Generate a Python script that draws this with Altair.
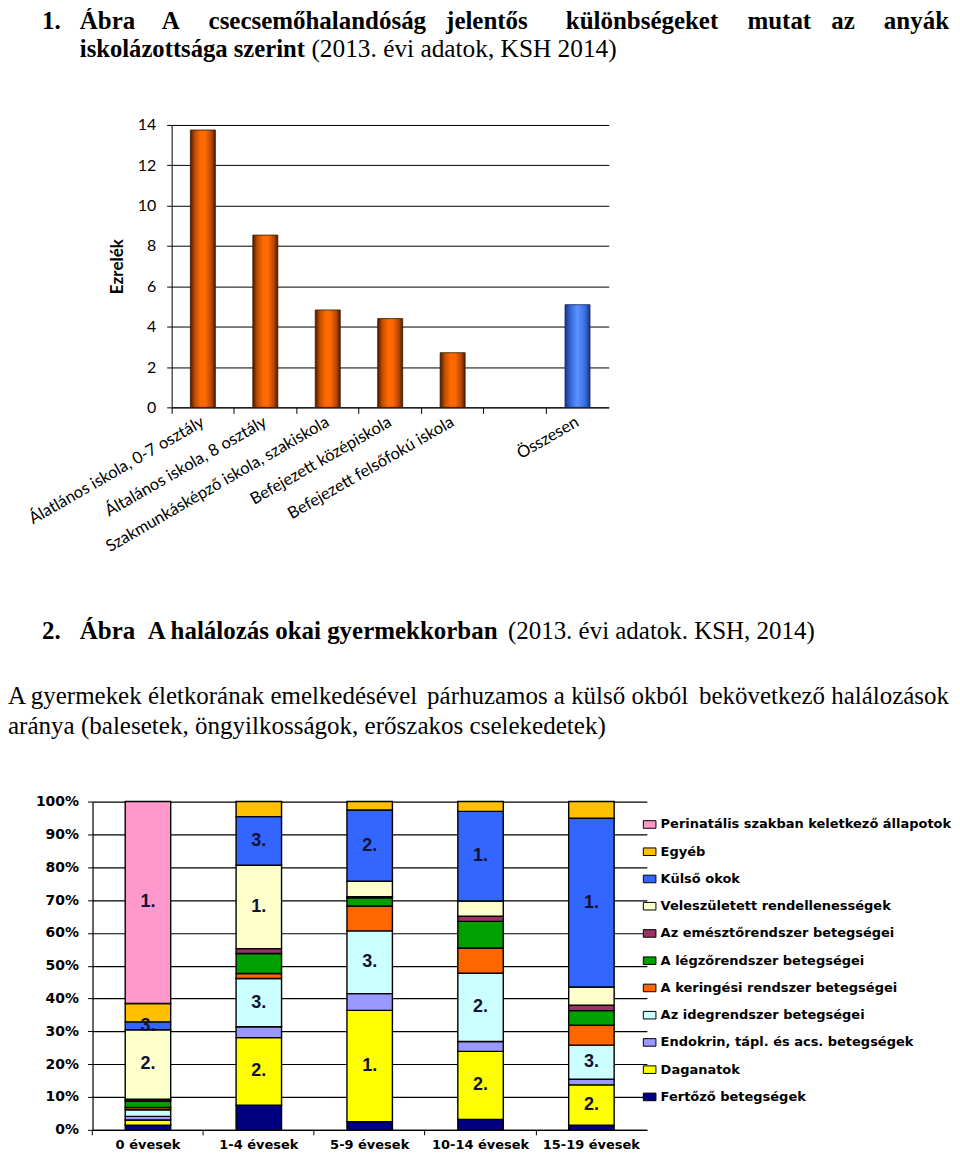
import altair as alt
import pandas as pd

# ---------------- Chart 1: infant mortality by mother's education ----------------
edu_categories = [
    "Álatlános iskola, 0-7 osztály",
    "Általános iskola, 8 osztály",
    "Szakmunkásképző iskola, szakiskola",
    "Befejezett középiskola",
    "Befejezett felsőfokú iskola",
    "",
    "Összesen",
]
edu_values = [13.75, 8.54, 4.83, 4.40, 2.71, None, 5.09]
edu_total = "Összesen"
ezrelek_ticks = [0, 2, 4, 6, 8, 10, 12, 14]

# ---------------- Chart 2: causes of death in childhood ----------------
age_groups = ["0 évesek", "1-4 évesek", "5-9 évesek", "10-14 évesek", "15-19 évesek"]
# stacking order, bottom to top
causes = [
    "Fertőző betegségek",
    "Daganatok",
    "Endokrin, tápl. és acs. betegségek",
    "Az idegrendszer betegségei",
    "A keringési rendszer betegségei",
    "A légzőrendszer betegségei",
    "Az emésztőrendszer betegségei",
    "Veleszületett rendellenességek",
    "Külső okok",
    "Egyéb",
    "Perinatális szakban keletkező állapotok",
]
cause_colors = ["#000080", "#FFFF00", "#9999FF", "#CCFFFF", "#FF6600", "#00A000",
                "#993366", "#FFFFCC", "#3366FF", "#FFC000", "#FF99CC"]

share_0 = [1.4, 1.6, 1.1, 2.0, 0.7, 2.0, 0.5, 21.2, 2.4, 5.6, 61.5]
share_1_4 = [7.5, 20.6, 3.3, 14.7, 1.5, 6.1, 1.5, 25.4, 14.8, 4.6, 0]
share_5_9 = [2.5, 33.9, 5.1, 19.1, 7.6, 2.5, 0.3, 4.7, 21.7, 2.6, 0]
share_10_14 = [3.2, 20.7, 3.0, 20.8, 7.7, 8.1, 1.6, 4.6, 27.3, 3.0, 0]
share_15_19 = [1.4, 12.3, 1.7, 10.4, 6.1, 4.4, 1.7, 5.5, 51.4, 5.1, 0]

rank_0 = ["", "", "", "", "", "", "", "2.", "3.", "", "1."]
rank_1_4 = ["", "2.", "", "3.", "", "", "", "1.", "3.", "", ""]
rank_5_9 = ["", "1.", "", "3.", "", "", "", "", "2.", "", ""]
rank_10_14 = ["", "2.", "", "2.", "", "", "", "", "1.", "", ""]
rank_15_19 = ["", "2.", "", "3.", "", "", "", "", "1.", "", ""]

pct_ticks = [0, 10, 20, 30, 40, 50, 60, 70, 80, 90, 100]

# ---------------- tables ----------------
edu_df = pd.DataFrame({"cat": edu_categories, "val": edu_values}).dropna()

rows = []
for age, shares, ranks in zip(
    age_groups,
    [share_0, share_1_4, share_5_9, share_10_14, share_15_19],
    [rank_0, rank_1_4, rank_5_9, rank_10_14, rank_15_19],
):
    base = 0.0
    for i, (cause, v, r) in enumerate(zip(causes, shares, ranks)):
        if v > 0:
            rows.append(dict(age=age, cause=cause, order=i, y0=base, y1=base + v,
                             mid=base + v / 2, rank=r))
        base += v
cause_df = pd.DataFrame(rows)
label_df = cause_df[cause_df["rank"] != ""]

legend_causes = list(reversed(causes))
legend_colors = list(reversed(cause_colors))

W = 944
SERIF = "Liberation Serif"
one = pd.DataFrame({"k": [0]})


def txt(s, x, y, size=25, bold=False, align="left"):
    return alt.Chart(one).mark_text(
        text=s, font=SERIF, fontSize=size, fontWeight="bold" if bold else "normal",
        align=align, baseline="alphabetic", color="black"
    ).encode(x=alt.value(x), y=alt.value(y))


# ---------------- header text ----------------
HB1, HB2 = 20, 48
header = alt.layer(
    txt("1.", 34, HB1, bold=True),
    txt("Ábra", 72, HB1, bold=True),
    txt("A", 154, HB1, bold=True),
    txt("csecsemőhalandóság", 201, HB1, bold=True),
    txt("jelentős", 439, HB1, bold=True),
    txt("különbségeket", 559, HB1, bold=True),
    txt("mutat", 741, HB1, bold=True),
    txt("az", 825, HB1, bold=True),
    txt("anyák", 943, HB1, bold=True, align="right"),
    txt("iskolázottsága szerint", 72, HB2, bold=True, size=24.7),
    txt("(2013. évi adatok, KSH 2014)", 610, HB2, size=25.4, align="right"),
).properties(width=W, height=116)

# ---------------- chart 1 ----------------
orange = alt.LinearGradient(
    gradient="linear", x1=0, x2=1, y1=0, y2=0,
    stops=[
        alt.GradientStop(color="#4a1a00", offset=0),
        alt.GradientStop(color="#c04c00", offset=0.18),
        alt.GradientStop(color="#ff6a00", offset=0.42),
        alt.GradientStop(color="#ff6a00", offset=0.6),
        alt.GradientStop(color="#b54500", offset=0.85),
        alt.GradientStop(color="#4a1a00", offset=1),
    ],
)
blue = alt.LinearGradient(
    gradient="linear", x1=0, x2=1, y1=0, y2=0,
    stops=[
        alt.GradientStop(color="#1a3488", offset=0),
        alt.GradientStop(color="#3a6ee0", offset=0.25),
        alt.GradientStop(color="#5a92ff", offset=0.5),
        alt.GradientStop(color="#3a6ee0", offset=0.8),
        alt.GradientStop(color="#1a3488", offset=1),
    ],
)

x_top_scale = alt.Scale(domain=edu_categories, range=[164, 602], paddingInner=0, paddingOuter=0)
y_top_scale = alt.Scale(domain=[0, 14])
y_top_axis = alt.Axis(
    values=ezrelek_ticks, offset=-164, grid=True, gridColor="black", gridWidth=1,
    domainColor="black", tickColor="black", tickSize=5,
    labelFont="Lato", labelFontSize=16, labelColor="black", labelPadding=11,
    title="Ezrelék", titleFont="Lato", titleFontSize=17, titleFontWeight="bold",
    titleColor="black", titlePadding=11,
)

top_base = alt.Chart(edu_df)
bars_school = top_base.transform_filter(alt.datum.cat != edu_total).mark_bar(
    width=alt.RelativeBandSize(0.4), color=orange, stroke="#3a1600", strokeWidth=0.8
).encode(
    x=alt.X("cat:N", sort=edu_categories, scale=x_top_scale,
            axis=alt.Axis(orient="bottom", labelAngle=-30, labelAlign="right",
                          labelBaseline="middle", labelFont="Lato", labelFontSize=16.5,
                          labelColor="black", labelPadding=13, labelLimit=400,
                          ticks=False, domain=True, domainColor="black", title=None)),
    y=alt.Y("val:Q", scale=y_top_scale, axis=y_top_axis),
)
bars_total = top_base.transform_filter(alt.datum.cat == edu_total).mark_bar(
    width=alt.RelativeBandSize(0.4), color=blue, stroke="#10205a", strokeWidth=0.8
).encode(
    x=alt.X("cat:N", sort=edu_categories, scale=x_top_scale,
            axis=alt.Axis(orient="bottom", bandPosition=0, labels=False, ticks=True,
                          tickSize=6, tickColor="black", domain=False, grid=False,
                          title=None)),
    y=alt.Y("val:Q", scale=y_top_scale, axis=y_top_axis),
)
top_chart = alt.layer(bars_school, bars_total).resolve_axis(x="independent").properties(
    width=W, height=283
)

# ---------------- middle text ----------------
middle = alt.layer(
    txt("2.", 34, 232, bold=True),
    txt("Ábra", 72, 232, bold=True),
    txt("A halálozás okai gyermekkorban", 140, 232, bold=True),
    txt("(2013. évi adatok. KSH, 2014)", 501, 232),
    txt("A gyermekek életkorának emelkedésével", 0, 297),
    txt("párhuzamos a külső okból", 420, 297),
    txt("bekövetkező halálozások", 943, 297, align="right"),
    txt("aránya (balesetek, öngyilkosságok, erőszakos cselekedetek)", 0, 327, size=25.1),
).properties(width=W, height=395)

# ---------------- chart 2 ----------------
x_bot_scale = alt.Scale(domain=age_groups, range=[84.7, 640.2], paddingInner=0, paddingOuter=0)
y_bot_scale = alt.Scale(domain=[0, 100])
y_bot_axis = alt.Axis(
    values=pct_ticks, labelExpr="datum.value + '%'", offset=-84.7, grid=True,
    gridColor="black", gridWidth=1.2, domainColor="black", domainWidth=1.2,
    tickColor="black", tickSize=5, labelFont="DejaVu Sans", labelFontWeight="bold",
    labelFontSize=14, labelColor="black", labelPadding=9, title=None,
)

stack_bars = alt.Chart(cause_df).mark_bar(
    width=alt.RelativeBandSize(0.41), stroke="black", strokeWidth=1.4
).encode(
    x=alt.X("age:N", sort=age_groups, scale=x_bot_scale,
            axis=alt.Axis(orient="bottom", ticks=False, domain=True, domainColor="black",
                          domainWidth=1.2, labelFont="DejaVu Sans", labelFontWeight="bold",
                          labelFontSize=13, labelColor="black", labelPadding=9,
                          labelAngle=0, title=None)),
    y=alt.Y("y0:Q", scale=y_bot_scale, axis=y_bot_axis),
    y2="y1:Q",
    color=alt.Color(
        "cause:N",
        scale=alt.Scale(domain=legend_causes, range=legend_colors),
        legend=alt.Legend(
            orient="none", legendX=636, legendY=810, title=None, padding=0,
            symbolType="M-1,-0.6H1V0.6H-1Z", symbolSize=160, symbolStrokeColor="black",
            symbolStrokeWidth=1, labelFont="DejaVu Sans", labelFontWeight="bold",
            labelFontSize=13, labelColor="black", labelOffset=4, labelLimit=300,
            rowPadding=13.3,
        ),
    ),
)
rank_text = alt.Chart(label_df).mark_text(
    font="Liberation Sans", fontSize=18, fontWeight="bold", color="#111133"
).encode(
    x=alt.X("age:N", sort=age_groups, scale=x_bot_scale,
            axis=alt.Axis(orient="bottom", bandPosition=0, labels=False, ticks=True,
                          tickSize=5, tickColor="black", domain=False, grid=False,
                          title=None)),
    y=alt.Y("mid:Q", scale=y_bot_scale, axis=y_bot_axis),
    text="rank:N",
)
bottom_chart = alt.layer(stack_bars, rank_text).resolve_axis(x="independent").properties(
    width=W, height=329
)

chart = alt.vconcat(
    header, top_chart, middle, bottom_chart, spacing=0, bounds="flush"
).properties(padding=0).configure_view(stroke=None)

chart.save("out.html", embed_options={"renderer": "svg", "actions": False})
